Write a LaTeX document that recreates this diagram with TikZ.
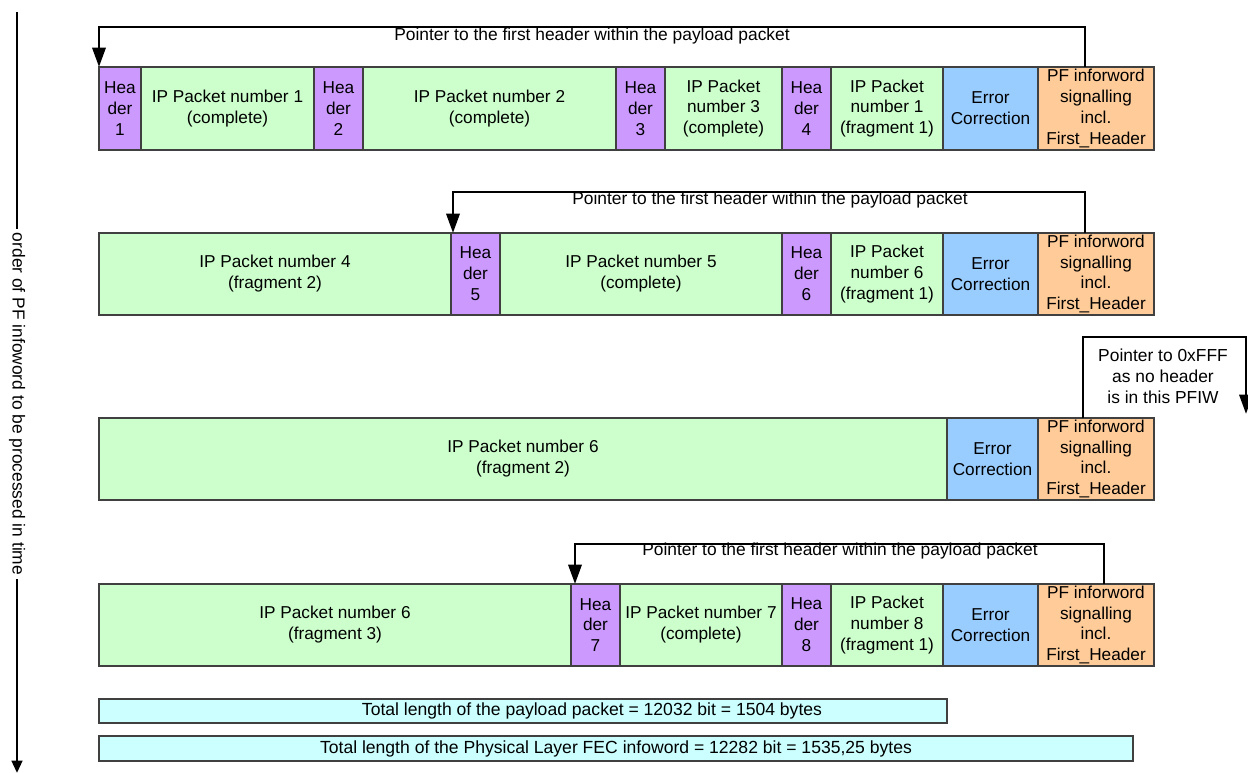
\documentclass[tikz,border=0pt]{standalone}
\usepackage{fontspec}
\setmainfont{Liberation Sans}
\usetikzlibrary{arrows.meta,calc}
\definecolor{hdrc}{HTML}{CC99FF}
\definecolor{ipc}{HTML}{CCFFCC}
\definecolor{ecc}{HTML}{99CCFF}
\definecolor{pfc}{HTML}{FFCC99}
\definecolor{barc}{HTML}{CCFFFF}
\newcommand\pfcell[7]{\node[#2, minimum width={(#4-#3)*0.02cm}, minimum height={(#6-#5)*0.02cm}] (#1) at ({(#3+#4)/2},{(#5+#6)/2}) {#7};}
\tikzset{
  cellbase/.style={draw=black!75, line width=0.6pt, inner sep=0pt, outer sep=0pt, align=center,
    font=\fontsize{9.8}{11.9}\selectfont},
  hdr/.style={cellbase, fill=hdrc},
  ipk/.style={cellbase, fill=ipc},
  ecb/.style={cellbase, fill=ecc},
  pfb/.style={cellbase, fill=pfc},
  barb/.style={cellbase, fill=barc, font=\fontsize{10}{12}\selectfont},
  ptr/.style={line width=1.6pt, -{Triangle[length=11pt,width=7.5pt]}},
  lbl/.style={font=\fontsize{9.9}{11.9}\selectfont, inner sep=0pt, align=center},
}
\begin{document}
\begin{tikzpicture}[x=0.02cm, y=-0.02cm]
\useasboundingbox[fill=white] (0,0) rectangle (1248,773);
% time arrow
\coordinate (t0) at (17,12);
\coordinate (t1) at (17,773);
\draw[line width=1.5pt, -{Triangle[length=7pt,width=6pt]}] (t0) -- (t1);
\node[lbl, rotate=-90, fill=white, inner xsep=2pt] (tl) at (17,404) {order of PF infoword to be processed in time};
% row 1
\pfcell{h1}{hdr}{99}{141}{67}{150}{Hea\\der\\1}
\pfcell{ip1}{ipk}{141}{314}{67}{150}{IP Packet number 1\\(complete)}
\pfcell{h2}{hdr}{314}{363}{67}{150}{Hea\\der\\2}
\pfcell{ip2}{ipk}{363}{616}{67}{150}{IP Packet number 2\\(complete)}
\pfcell{h3}{hdr}{616}{665}{67}{150}{Hea\\der\\3}
\pfcell{ip3}{ipk}{665}{782}{67}{150}{IP Packet\\number 3\\(complete)}
\pfcell{h4}{hdr}{782}{831}{67}{150}{Hea\\der\\4}
\pfcell{ip1f}{ipk}{831}{943}{67}{150}{IP Packet\\number 1\\(fragment 1)}
\pfcell{ec1}{ecb}{943}{1038}{67}{150}{Error\\Correction}
\pfcell{pf1}{pfb}{1038}{1154}{67}{150}{PF inforword\\signalling\\incl.\\First\_Header}
\draw[ptr] ($(pf1.north)+(-11,0)$) -- ++(0,-40) -| (h1.north west);
\node[lbl] (p1) at (592,36) {Pointer to the first header within the payload packet};
% row 2
\pfcell{ip4}{ipk}{99}{451}{233}{315}{IP Packet number 4\\(fragment 2)}
\pfcell{h5}{hdr}{451}{500}{233}{315}{Hea\\der\\5}
\pfcell{ip5}{ipk}{500}{782}{233}{315}{IP Packet number 5\\(complete)}
\pfcell{h6}{hdr}{782}{831}{233}{315}{Hea\\der\\6}
\pfcell{ip6a}{ipk}{831}{943}{233}{315}{IP Packet\\number 6\\(fragment 1)}
\pfcell{ec2}{ecb}{943}{1038}{233}{315}{Error\\Correction}
\pfcell{pf2}{pfb}{1038}{1154}{233}{315}{PF inforword\\signalling\\incl.\\First\_Header}
\draw[ptr] ($(pf2.north)+(-11,0)$) -- ++(0,-41) -| ($(h5.north west)+(2,0)$);
\node[lbl] (p2) at (770,200) {Pointer to the first header within the payload packet};
% row 3
\pfcell{ip6b}{ipk}{99}{947}{418}{500}{IP Packet number 6\\(fragment 2)}
\pfcell{ec3}{ecb}{947}{1038}{418}{500}{Error\\Correction}
\pfcell{pf3}{pfb}{1038}{1154}{418}{500}{PF inforword\\signalling\\incl.\\First\_Header}
\coordinate (e3) at (1246,414);
\draw[ptr] ($(pf3.north)+(-13,0)$) -- ++(0,-81) -| (e3);
\node[lbl] (p3) at (1163,376) {Pointer to 0xFFF\\as no header\\is in this PFIW};
% row 4
\pfcell{ip6c}{ipk}{99}{571}{584}{666}{IP Packet number 6\\(fragment 3)}
\pfcell{h7}{hdr}{571}{620}{584}{666}{Hea\\der\\7}
\pfcell{ip7}{ipk}{620}{782}{584}{666}{IP Packet number 7\\(complete)}
\pfcell{h8}{hdr}{782}{831}{584}{666}{Hea\\der\\8}
\pfcell{ip8}{ipk}{831}{943}{584}{666}{IP Packet\\number 8\\(fragment 1)}
\pfcell{ec4}{ecb}{943}{1038}{584}{666}{Error\\Correction}
\pfcell{pf4}{pfb}{1038}{1154}{584}{666}{PF inforword\\signalling\\incl.\\First\_Header}
\draw[ptr] ($(pf4.north)+(8,0)$) -- ++(0,-40) -| ($(h7.north west)+(4,0)$);
\node[lbl] (p4) at (840,551) {Pointer to the first header within the payload packet};
% bars
\pfcell{b1}{barb}{99}{947}{699}{723}{}
\node[lbl, font=\fontsize{10}{12}\selectfont] (b1t) at ($(b1.center)+(69,0)$) {Total length of the payload packet = 12032 bit = 1504 bytes};
\pfcell{b2}{barb}{99}{1133}{736}{761}{Total length of the Physical Layer FEC infoword = 12282 bit = 1535,25 bytes}
\end{tikzpicture}
\end{document}
